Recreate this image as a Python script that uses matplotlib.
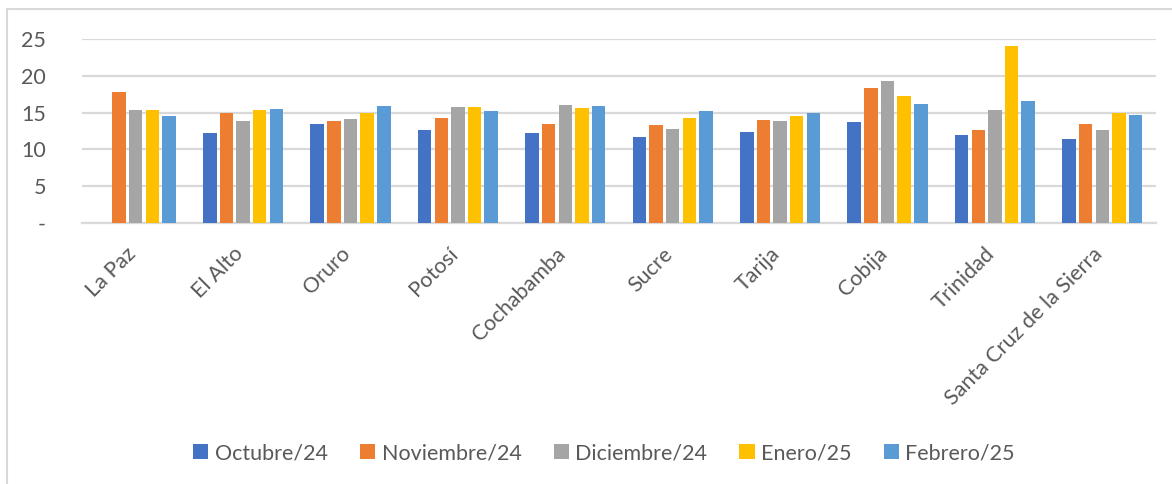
import numpy as np
import matplotlib
matplotlib.use('Agg')
import matplotlib.pyplot as plt
import matplotlib.transforms as mtransforms
from matplotlib.patches import Rectangle

# ciudades y meses
cities = ['La Paz', 'El Alto', 'Oruro', 'Potosí', 'Cochabamba', 'Sucre',
          'Tarija', 'Cobija', 'Trinidad', 'Santa Cruz de la Sierra']
months = ['Octubre/24', 'Noviembre/24', 'Diciembre/24', 'Enero/25', 'Febrero/25']

# values (La Paz has no October bar)
octubre = [0, 12.2, 13.4, 12.6, 12.2, 11.7, 12.4, 13.7, 11.9, 11.4]
noviembre = [17.8, 15.0, 13.9, 14.2, 13.4, 13.3, 14.0, 18.3, 12.6, 13.4]
diciembre = [15.3, 13.8, 14.1, 15.8, 16.1, 12.8, 13.9, 19.3, 15.3, 12.6]
enero = [15.3, 15.3, 15.0, 15.8, 15.6, 14.3, 14.6, 17.2, 24.0, 14.9]
febrero = [14.6, 15.5, 15.9, 15.2, 15.9, 15.2, 15.0, 16.2, 16.6, 14.7]

yticks = [0, 5, 10, 15, 20, 25]
ytick_labels = ['-', '5', '10', '15', '20', '25']

series = [octubre, noviembre, diciembre, enero, febrero]
colors = ['#4472C4', '#ED7D31', '#A5A5A5', '#FFC000', '#5B9BD5']
text_color = '#595959'
grid_color = '#D9D9D9'

plt.rcParams['font.family'] = ['Lato', 'DejaVu Sans']

W, H = 1172, 484
fig = plt.figure(figsize=(W / 100, H / 100), dpi=100)

# chart area frame
fig.patches.append(Rectangle((7 / W, -0.1), 2, 1.1 - 9 / H, transform=fig.transFigure,
                             fill=False, edgecolor=grid_color, linewidth=1.5))

ax = fig.add_axes([82 / W, 1 - 223 / H, (1156 - 82) / W, (223 - 39) / H])

x = np.arange(len(cities))
step = 0.155
for i, (vals, name, c) in enumerate(zip(series, months, colors)):
    ax.bar(x + (i - 2) * step, vals, width=0.125, color=c, label=name, zorder=3)

ax.set_xlim(-0.5, len(cities) - 0.5)
ax.set_ylim(0, 25)
ax.set_yticks(yticks)
ax.set_yticklabels(ytick_labels)
ax.yaxis.grid(True, color=grid_color, linewidth=1.6, zorder=0)
ax.set_axisbelow(True)

for s in ['top', 'right', 'left']:
    ax.spines[s].set_visible(False)
ax.spines['bottom'].set_color(grid_color)
ax.spines['bottom'].set_linewidth(1.6)

ax.set_xticks(x)
ax.set_xticklabels(cities, rotation=45, ha='right', va='top')
ax.tick_params(axis='x', length=0, pad=15, labelsize=15.5, labelcolor=text_color)
ax.tick_params(axis='y', length=0, pad=26, labelsize=15.5, labelcolor=text_color)

# nudge the rotated labels a little to the right, as in the original
shift = mtransforms.ScaledTranslation(4 / 100, 0, fig.dpi_scale_trans)
for lbl in ax.get_xticklabels():
    lbl.set_transform(lbl.get_transform() + shift)

fig.legend(loc='center', bbox_to_anchor=(604 / W, 1 - 453 / H), ncol=5, frameon=False,
           fontsize=15.5, labelcolor=text_color, handlelength=0.7, handleheight=0.7,
           handletextpad=0.3, columnspacing=1.5)

fig.savefig('out.png', dpi=100)
